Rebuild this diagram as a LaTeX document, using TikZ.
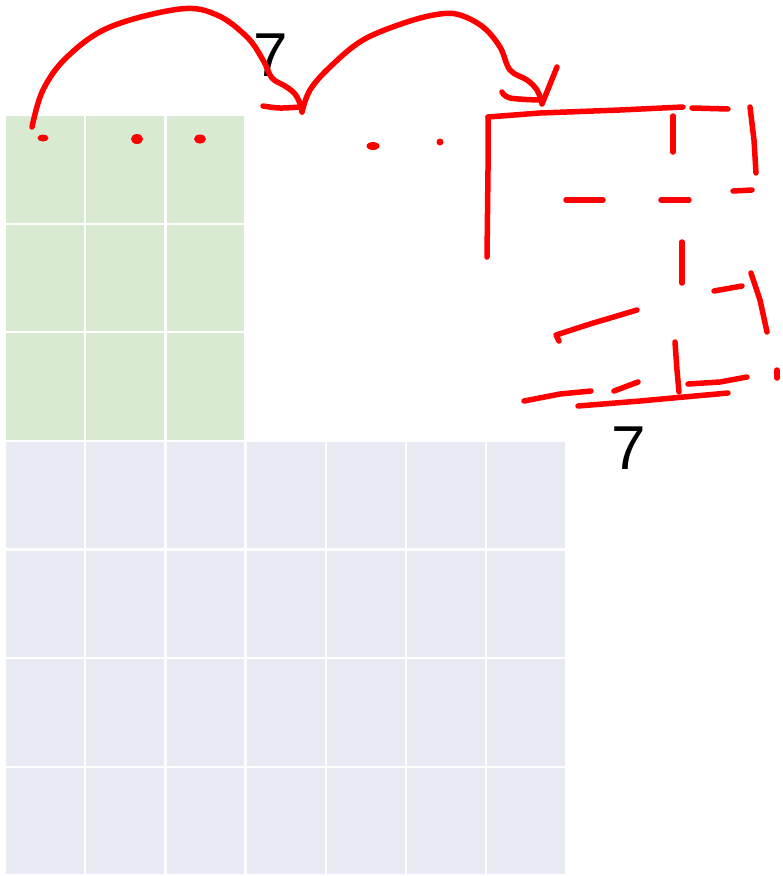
\documentclass[tikz,border=0pt]{standalone}
\usepackage{fontspec}
\setmainfont{Liberation Sans}
\definecolor{cellgreen}{RGB}{217,234,211}
\definecolor{cellblue}{RGB}{232,235,243}
\definecolor{penred}{RGB}{255,0,0}
\tikzset{
  cellbox/.style={anchor=north west, inner sep=0pt, minimum width=77.7pt, minimum height=106.4pt, draw=none},
  gcell/.style={cellbox, fill=cellgreen},
  bcell/.style={cellbox, fill=cellblue},
  redpen/.style={draw=penred, line width=5.5pt, line cap=round, line join=round},
  reddot/.style={fill=penred, draw=none},
  bignum/.style={font=\fontsize{62}{62}\selectfont, inner sep=0pt, text=black}
}
\begin{document}
\begin{tikzpicture}[x=1pt,y=-1pt]
\useasboundingbox (0,0) rectangle (783,876);
% green 3x3 grid
\foreach \r in {0,1,2}{
  \foreach \c in {0,1,2}{
    \node[gcell] (g-\r-\c) at ({6+80.2*\c},{116+108.6*\r}) {};
  }
}
% blue 7x4 grid
\foreach \r in {3,4,5,6}{
  \foreach \c in {0,...,6}{
    \node[bcell] (b-\r-\c) at ({6+80.2*\c},{116+108.6*\r}) {};
  }
}
% labels
\node[bignum] (seven1) at (271,55) {7};
\node[bignum] (seven2) at (629,448) {7};
% arc 1
\draw[redpen] plot[smooth, tension=0.6] coordinates {(32,127) (43,90) (67,57) (110,27) (180,9) (217,15) (247,37) (263,60) (272,78) (285,86) (295,94) (301,106) (302,112)};
\draw[redpen] plot[smooth, tension=0.6] coordinates {(263,106) (280,108) (300,107)};
% arc 2
\draw[redpen] plot[smooth, tension=0.6] coordinates {(302,112) (310,90) (330,67) (363,40) (407,22) (440,14) (460,15) (483,27) (500,47) (510,70) (527,80) (537,90) (542,103)};
\draw[redpen] plot[smooth, tension=0.6] coordinates {(502,92) (510,98) (538,100)};
\draw[redpen] (542,104) -- (557,67);
% dots
\fill[reddot] (43,138) ellipse (5.5pt and 3.5pt);
\fill[reddot] (137,139) ellipse (6pt and 5pt);
\fill[reddot] (200,139) ellipse (6pt and 4.5pt);
\fill[reddot] (373,146) ellipse (6.5pt and 4pt);
\fill[reddot] (440,142) ellipse (3.5pt and 3.5pt);
% right sketch
\draw[redpen] (488,117) -- (540,113) -- (620,110) -- (683,107);
\draw[redpen] (692,108) -- (728,109);
\draw[redpen] (488,117) -- (488,170) -- (487,257);
\draw[redpen] (673,116) -- (673,152);
\draw[redpen] (750,107) -- (754,140) -- (756,173);
\draw[redpen] (566,200) -- (603,200);
\draw[redpen] (661,200) -- (689,200);
\draw[redpen] (733,191) -- (752,190);
\draw[redpen] (682,242) -- (682,283);
\draw[redpen] (714,291) -- (742,286);
\draw[redpen] (751,273) -- (760,300) -- (767,332);
\draw[redpen] (559,341) -- (556,335) -- (590,324) -- (637,310);
\draw[redpen] (675,342) -- (677,370) -- (679,392);
\draw[redpen] (777,370) -- (777,378);
\draw[redpen] (524,401) -- (560,394) -- (591,391);
\draw[redpen] (614,391) -- (638,382);
\draw[redpen] (688,384) -- (720,382) -- (747,377);
\draw[redpen] (578,406) -- (640,401) -- (728,393);
\end{tikzpicture}
\end{document}
